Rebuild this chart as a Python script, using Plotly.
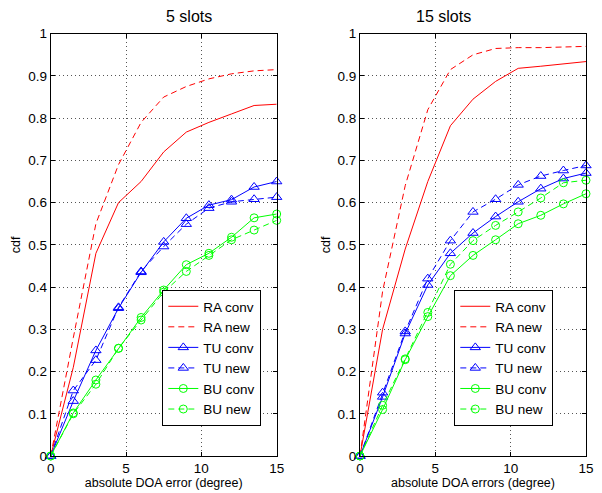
import plotly.graph_objects as go

x = [0, 1.5, 3, 4.5, 6, 7.5, 9, 10.5, 12, 13.5, 15]

ra_conv_5 = [0, 0.21, 0.48, 0.60, 0.65, 0.72, 0.767, 0.79, 0.81, 0.83, 0.833]
ra_new_5 = [0, 0.28, 0.55, 0.69, 0.79, 0.85, 0.875, 0.893, 0.905, 0.912, 0.915]
tu_conv_5 = [0, 0.13, 0.25, 0.35, 0.435, 0.507, 0.563, 0.594, 0.607, 0.637, 0.65]
tu_new_5 = [0, 0.155, 0.227, 0.352, 0.437, 0.496, 0.549, 0.587, 0.602, 0.608, 0.613]
bu_conv_5 = [0, 0.102, 0.18, 0.255, 0.328, 0.393, 0.453, 0.48, 0.518, 0.564, 0.573]
bu_new_5 = [0, 0.10, 0.17, 0.255, 0.322, 0.388, 0.437, 0.475, 0.512, 0.535, 0.558]

ra_conv_15 = [0, 0.30, 0.49, 0.65, 0.782, 0.845, 0.887, 0.918, 0.923, 0.928, 0.934]
ra_new_15 = [0, 0.39, 0.64, 0.82, 0.915, 0.95, 0.965, 0.967, 0.967, 0.968, 0.97]
tu_conv_15 = [0, 0.14, 0.29, 0.405, 0.48, 0.528, 0.567, 0.602, 0.633, 0.657, 0.67]
tu_new_15 = [0, 0.15, 0.295, 0.42, 0.51, 0.578, 0.608, 0.642, 0.663, 0.676, 0.688]
bu_conv_15 = [0, 0.11, 0.228, 0.33, 0.427, 0.475, 0.512, 0.55, 0.57, 0.597, 0.621]
bu_new_15 = [0, 0.12, 0.23, 0.34, 0.454, 0.51, 0.546, 0.578, 0.611, 0.647, 0.653]

names = ["RA conv", "RA new", "TU conv", "TU new", "BU conv", "BU new"]
titles = ["5 slots", "15 slots"]
xlabels = ["absolute DOA error (degree)", "absolute DOA errors (degree)"]

RED, BLUE, GREEN = "#FF0000", "#0000FF", "#00FF00"
DASH = "6px,4px"
styles = [
    dict(color=RED, dash="solid", symbol=None),
    dict(color=RED, dash=DASH, symbol=None),
    dict(color=BLUE, dash="solid", symbol="triangle-up-open"),
    dict(color=BLUE, dash=DASH, symbol="triangle-up-open"),
    dict(color=GREEN, dash="solid", symbol="circle-open"),
    dict(color=GREEN, dash=DASH, symbol="circle-open"),
]

series = [
    [ra_conv_5, ra_new_5, tu_conv_5, tu_new_5, bu_conv_5, bu_new_5],
    [ra_conv_15, ra_new_15, tu_conv_15, tu_new_15, bu_conv_15, bu_new_15],
]

FONT = "Liberation Sans, Arial, Helvetica, sans-serif"
fig = go.Figure()

for p, data in enumerate(series):
    xa = "x" if p == 0 else "x2"
    ya = "y" if p == 0 else "y2"
    lg = "legend" if p == 0 else "legend2"
    for name, vals, st in zip(names, data, styles):
        mode = "lines" if st["symbol"] is None else "lines+markers"
        kw = dict(
            x=x, y=vals, name=name, mode=mode, xaxis=xa, yaxis=ya, legend=lg,
            line=dict(color=st["color"], width=1, dash=st["dash"]),
            cliponaxis=False,
        )
        if st["symbol"] is not None:
            size = 9 if "triangle" in st["symbol"] else 8
            kw["marker"] = dict(symbol=st["symbol"], size=size,
                                color=st["color"], line=dict(width=1, color=st["color"]))
        fig.add_trace(go.Scatter(**kw))

W, H = 602, 493
dom_x = [[50.7 / W, 276.7 / W], [360 / W, 586 / W]]
dom_y = [1 - 456 / H, 1 - 33.7 / H]
GRID = dict(showgrid=True, gridcolor="#555", griddash="1px,3px", gridwidth=1)

def xaxis(i):
    return dict(
        domain=dom_x[i], range=[0, 15], tickvals=[0, 5, 10, 15], **GRID,
        showline=True, linecolor="black", linewidth=1, mirror="allticks",
        ticks="inside", ticklen=4, tickcolor="black",
        zeroline=False, anchor="y" if i == 0 else "y2", automargin=False,
        title=dict(text=xlabels[i], font=dict(size=12.5, family=FONT, color="black"), standoff=2),
        tickfont=dict(size=13.5, family=FONT, color="black"),
    )

def yaxis(i):
    return dict(
        domain=dom_y, range=[0, 1], dtick=0.1, tick0=0, **GRID,
        showline=True, linecolor="black", linewidth=1, mirror="allticks",
        ticks="inside", ticklen=4, tickcolor="black",
        zeroline=False, anchor="x" if i == 0 else "x2", automargin=False,
        title=dict(text="cdf", font=dict(size=12.5, family=FONT, color="black"), standoff=4),
        tickfont=dict(size=13.5, family=FONT, color="black"),
    )

def legend(xleft):
    return dict(
        x=xleft / W, y=1 - 358 / H, xanchor="left", yanchor="middle",
        xref="paper", yref="paper",
        bgcolor="white", bordercolor="black", borderwidth=1,
        font=dict(size=13.5, family=FONT, color="black"),
        tracegroupgap=0, itemwidth=30,
    )

fig.update_layout(
    width=W, height=H,
    margin=dict(l=0, r=0, t=0, b=0, autoexpand=False),
    paper_bgcolor="white", plot_bgcolor="white",
    font=dict(family=FONT, color="black"),
    showlegend=True,
    xaxis=xaxis(0), yaxis=yaxis(0),
    xaxis2=xaxis(1), yaxis2=yaxis(1),
    legend=legend(162.3), legend2=legend(454.3),
    annotations=[
        dict(text=titles[0], x=(dom_x[0][0] + dom_x[0][1]) / 2, y=1 - 17 / H,
             xref="paper", yref="paper", showarrow=False, yanchor="middle",
             font=dict(size=16, family=FONT, color="black")),
        dict(text=titles[1], x=(dom_x[1][0] + dom_x[1][1]) / 2, y=1 - 17 / H,
             xref="paper", yref="paper", showarrow=False, yanchor="middle",
             font=dict(size=16, family=FONT, color="black")),
    ],
)

fig.write_html(
    "out.html",
    config={"displayModeBar": False},
    post_script="document.body.style.margin='0px';document.body.style.overflow='hidden';",
)
